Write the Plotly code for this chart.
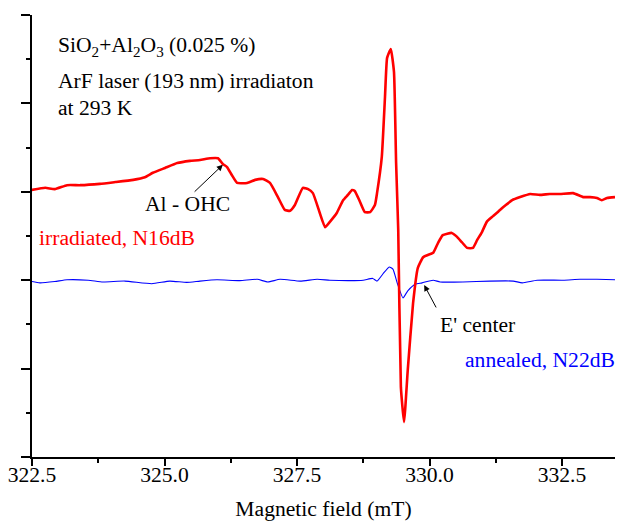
import plotly.graph_objects as go

# Magnetic field (mT) and EPR signal (arb. units) - irradiated sample
field_irr = [322.48, 322.75, 322.93, 323.16, 323.41, 323.78, 324.07, 324.41, 324.63, 324.78,
             325.01, 325.24, 325.48, 325.67, 325.86, 326.01, 326.10, 326.18, 326.27, 326.37,
             326.56, 326.71, 326.86, 326.99, 327.14, 327.27, 327.37, 327.46, 327.61, 327.71,
             327.80, 327.93, 328.03, 328.12, 328.25, 328.37, 328.46, 328.54, 328.59, 328.69,
             328.78, 328.88, 328.97, 329.01, 329.10, 329.16, 329.20, 329.27, 329.33, 329.37,
             329.41, 329.46, 329.52, 329.59, 329.69, 329.78, 329.88, 329.97, 330.07, 330.16,
             330.25, 330.42, 330.52, 330.61, 330.71, 330.82, 330.90, 330.99, 331.08, 331.20,
             331.33, 331.44, 331.56, 331.71, 331.90, 332.08, 332.27, 332.46, 332.71, 332.90,
             333.03, 333.16, 333.25, 333.35, 333.50]
signal_irr = [6.04, 6.09, 6.06, 6.15, 6.15, 6.18, 6.22, 6.27, 6.33, 6.43,
              6.54, 6.65, 6.70, 6.72, 6.76, 6.76, 6.63, 6.56, 6.38, 6.20,
              6.20, 6.27, 6.29, 6.20, 5.88, 5.59, 5.57, 5.70, 6.09, 6.06,
              5.97, 5.52, 5.20, 5.32, 5.52, 5.81, 5.93, 6.04, 6.02, 5.77,
              5.54, 5.54, 5.70, 5.97, 6.79, 8.14, 9.03, 9.23, 8.71, 6.65,
              5.14, 1.58, 0.79, 1.97, 3.48, 4.28, 4.52, 4.57, 4.62, 4.84,
              5.02, 5.07, 4.98, 4.86, 4.73, 4.73, 4.91, 5.09, 5.32, 5.45,
              5.59, 5.70, 5.81, 5.88, 5.95, 5.93, 5.95, 5.95, 5.97, 5.88,
              5.88, 5.86, 5.81, 5.86, 5.88]

# annealed sample
field_ann = [322.46, 322.65, 322.93, 323.16, 323.56, 323.84, 324.25, 324.76, 325.10, 325.42,
             325.67, 325.99, 326.42, 326.75, 326.95, 327.18, 327.56, 327.88, 328.12, 328.50,
             328.75, 328.93, 329.01, 329.12, 329.24, 329.31, 329.39, 329.50, 329.59, 329.73,
             329.86, 330.07, 330.20, 330.63, 331.14, 331.58, 331.75, 332.03, 332.52, 332.84,
             333.16, 333.50]
signal_ann = [3.98, 3.94, 3.97, 4.01, 4.00, 3.96, 3.98, 3.92, 3.98, 3.95,
              3.98, 4.01, 3.99, 4.02, 3.96, 4.02, 3.98, 4.02, 4.00, 3.99,
              4.00, 4.04, 3.98, 4.14, 4.30, 4.25, 3.94, 3.60, 3.76, 3.91,
              3.94, 4.00, 3.96, 3.96, 3.98, 3.98, 3.94, 4.00, 4.00, 4.02,
              4.02, 4.01]

x_ticks = [322.5, 325.0, 327.5, 330.0, 332.5]

FONT = "Liberation Serif"
FS = 21.6

fig = go.Figure()
fig.add_trace(go.Scatter(x=field_ann, y=signal_ann, mode="lines",
                         line=dict(color="#0000ff", width=1.1, shape="spline", smoothing=0.5),
                         showlegend=False))
fig.add_trace(go.Scatter(x=field_irr, y=signal_irr, mode="lines",
                         line=dict(color="#ff0000", width=2.6, shape="spline", smoothing=0.4),
                         showlegend=False))

fig.update_layout(
    width=617, height=521,
    margin=dict(l=32, r=2, t=15, b=64),
    paper_bgcolor="white", plot_bgcolor="white",
    font=dict(family=FONT, size=FS, color="black"),
    xaxis=dict(range=[322.5, 333.5], tickvals=x_ticks, tickformat=".1f",
               ticks="outside", ticklen=7, tickwidth=1.5, tickcolor="black",
               ticklabelstandoff=-10,
               showline=True, linecolor="black", linewidth=2,
               showgrid=False, zeroline=False,
               minor=dict(dtick=1.25, tick0=322.5, ticks="outside", ticklen=4,
                          tickwidth=1.5, tickcolor="black", showgrid=False),
               title=dict(text="Magnetic field (mT)", standoff=17,
                          font=dict(family=FONT, size=FS))),
    yaxis=dict(range=[0, 10], dtick=2, tick0=0, showticklabels=False,
               ticks="outside", ticklen=9, tickwidth=1.5, tickcolor="black",
               showline=True, linecolor="black", linewidth=2,
               showgrid=False, zeroline=False,
               minor=dict(dtick=1, tick0=0, ticks="outside", ticklen=4,
                          tickwidth=1.5, tickcolor="black", showgrid=False)),
)

ann = [
    dict(x=322.95, y=9.28, text="SiO<sub>2</sub>+Al<sub>2</sub>O<sub>3</sub> (0.025 %)",
         xanchor="left", yanchor="middle", showarrow=False),
    dict(x=322.95, y=8.51, text="ArF laser (193 nm) irradiaton",
         xanchor="left", yanchor="middle", showarrow=False),
    dict(x=322.95, y=7.90, text="at 293 K",
         xanchor="left", yanchor="middle", showarrow=False),
    dict(x=322.59, y=4.95, text="irradiated, N16dB", font=dict(color="#ff0000"),
         xanchor="left", yanchor="middle", showarrow=False),
    dict(x=330.63, y=2.19, text="annealed, N22dB", font=dict(color="#0000ff"),
         xanchor="left", yanchor="middle", showarrow=False),
    dict(x=325.44, y=5.72, text="Al - OHC", xanchor="center", yanchor="middle",
         showarrow=False),
    dict(x=330.90, y=2.99, text="E' center", xanchor="center", yanchor="middle",
         showarrow=False),
    dict(x=326.10, y=6.61, ax=325.54, ay=5.97, axref="x", ayref="y", text="",
         showarrow=True, arrowhead=2, arrowsize=1.2, arrowwidth=1, arrowcolor="black"),
    dict(x=329.90, y=3.89, ax=330.14, ay=3.35, axref="x", ayref="y", text="",
         showarrow=True, arrowhead=2, arrowsize=1.2, arrowwidth=1, arrowcolor="black"),
]
fig.update_layout(annotations=ann)

fig.write_html("out.html")
